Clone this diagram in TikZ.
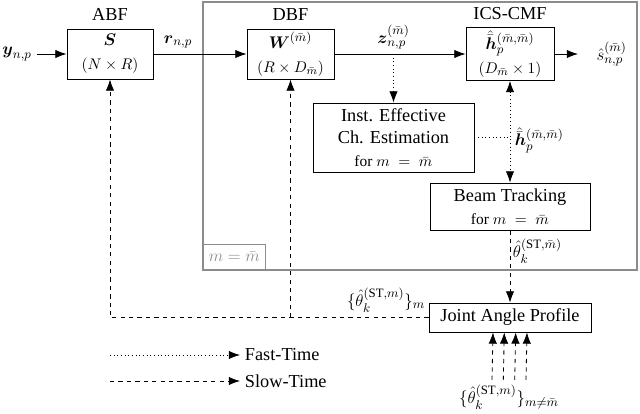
\documentclass[tikz,border=0pt]{standalone}
\usepackage{amsmath}
\usepackage{fontspec}
\setmainfont{Liberation Serif}
\usetikzlibrary{calc, positioning, arrows.meta}

\tikzset{
  blk/.style={draw, line width=0.6pt, align=center, inner sep=1pt},
  sig/.style={line width=0.6pt, -{Latex[length=8pt,width=6pt]}},
  fast/.style={sig, dotted},
  slow/.style={sig, dashed},
  frame/.style={draw=black!45, line width=2pt}
}
\newcommand{\smalltext}{\fontsize{11}{13}\selectfont}

\begin{document}
\begin{tikzpicture}[x=0.025cm, y=-0.025cm, font=\fontsize{13}{16}\selectfont]
\useasboundingbox (0,0) rectangle (640,414);
% fast-time loop for m = \bar m
\draw[frame] (203,2) rectangle (637,270);
\node[draw=black!45, text=black!45, line width=0.5pt, anchor=south west,
  minimum width=1.55cm, minimum height=0.625cm, inner sep=1pt] (mlab) at (203,270) {$m=\bar{m}$};

\node[blk, minimum width=2.15cm, minimum height=1.25cm] (abf) at (110,54)
  {$\boldsymbol{S}$\\[1pt]{\smalltext $(N\times R)$}};
\node[above=2pt of abf] (abft) {ABF};
\node[blk, minimum width=2.175cm, minimum height=1.25cm] (dbf) at (290.5,54)
  {$\boldsymbol{W}^{(\bar{m})}$\\[1pt]{\smalltext $(R\times D_{\bar{m}})$}};
\node[above=2pt of dbf] (dbft) {DBF};
\node[blk, minimum width=2.2cm, minimum height=1.325cm] (ics) at (510,54)
  {$\hat{\bar{\boldsymbol{h}}}_p^{(\bar{m},\bar{m})}$\\[1pt]{\smalltext $(D_{\bar{m}}\times 1)$}};
\node[above=2pt of ics] (icst) {ICS-CMF};
\node[blk, minimum width=4.025cm, minimum height=1.725cm] (inst) at (393.5,137.5)
  {Inst. Effective\\Ch. Estimation\\{\smalltext for $m\;=\;\bar{m}$}};
\node[blk, minimum width=4.0cm, minimum height=1.175cm] (beam) at (510,206.5)
  {Beam Tracking\\{\smalltext for $m\;=\;\bar{m}$}};
\node[blk, minimum width=4.05cm, minimum height=0.725cm] (jap) at (510,317.5) {Joint Angle Profile};

\node (y) at (17,54) {$\boldsymbol{y}_{n,p}$};
\node (r) at (178,42) {$\boldsymbol{r}_{n,p}$};
\node (z) at (393.5,37) {$\boldsymbol{z}_{n,p}^{(\bar{m})}$};
\node[anchor=west, inner xsep=13pt] (s) at (578,54) {$\hat{s}_{n,p}^{(\bar{m})}$};
\node[anchor=west] (hlab) at (510,140) {$\hat{\bar{\boldsymbol{h}}}_p^{(\bar{m},\bar{m})}$};
\node[anchor=west] (thst) at (508,251) {$\hat{\theta}_k^{(\mathrm{ST},\bar{m})}$};
\node[anchor=east] (thm) at (430,300) {$\{\hat{\theta}_k^{(\mathrm{ST},m)}\}_m$};
\node (thb) at (509,397) {$\{\hat{\theta}_k^{(\mathrm{ST},m)}\}_{m\neq\bar{m}}$};

\draw[sig] (y) -- (abf);
\draw[sig] (abf) -- (dbf);
\draw[sig] (dbf) -- (ics);
\draw[sig] (ics) -- (s);
\draw[fast] (z |- dbf.east) -- (inst);
\draw[fast, {Latex[length=8pt,width=6pt]}-{Latex[length=8pt,width=6pt]}] (ics) -- (beam);
\draw[line width=0.6pt, dotted] (inst.east) -- (inst.east -| beam.north);
\draw[slow] (beam) -- (jap);
\draw[slow] (jap.west) -| (abf.south);
\draw[slow] (jap.west -| dbf.south) -- (dbf.south);
\foreach \d in {-17,-5.7,5.7,17}
  \draw[slow] ($(thb.north)+(\d,0)$) -- ($(jap.south)+(\d,0)$);

% legend
\coordinate (fs) at (110,355);
\coordinate (ss) at (110,381);
\node[anchor=west] (fastt) at (240,355) {Fast-Time};
\node[anchor=west] (slowt) at (240,381) {Slow-Time};
\draw[fast] (fs) -- (fastt.west);
\draw[slow] (ss) -- (slowt.west);
\end{tikzpicture}
\end{document}
